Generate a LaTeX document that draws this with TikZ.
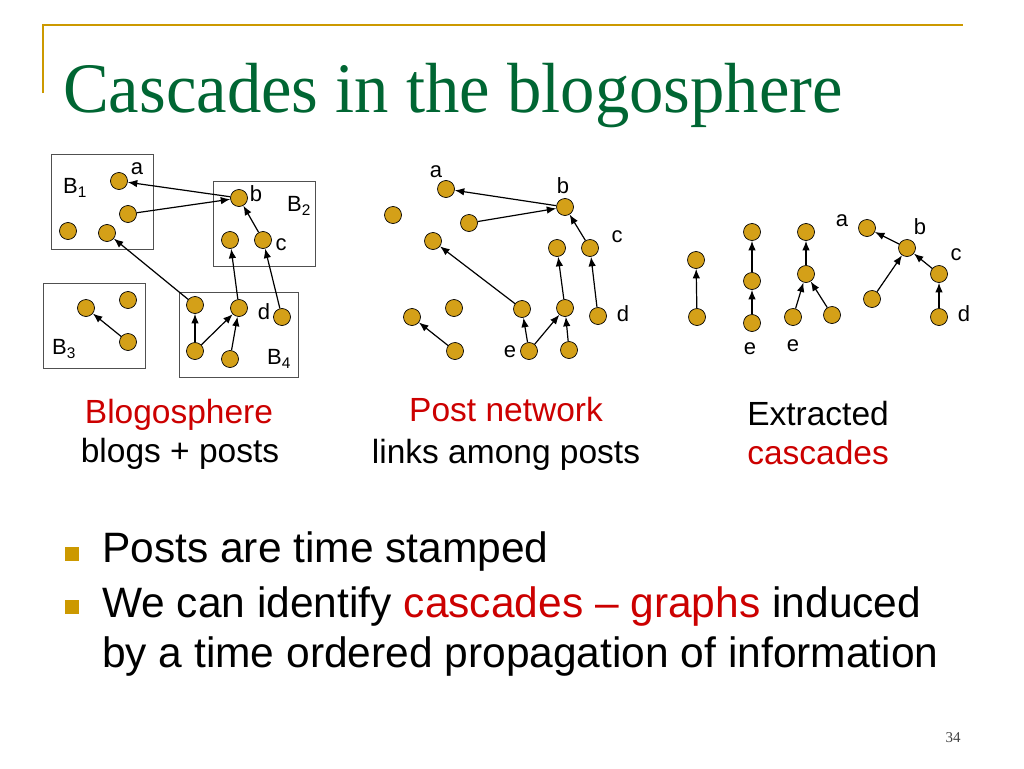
\documentclass[tikz,border=0pt]{standalone}
\usepackage{fontspec}
\setmainfont{Liberation Sans}
\newfontfamily\titlefont{Liberation Serif}
\usetikzlibrary{arrows.meta}
\definecolor{gold}{RGB}{204,153,0}
\definecolor{nodegold}{RGB}{212,160,24}
\definecolor{titlegreen}{RGB}{0,102,51}
\definecolor{capred}{RGB}{204,0,0}
\definecolor{boxgray}{RGB}{80,80,80}
\begin{document}
\begin{tikzpicture}[x=1pt,y=-1pt,
 post/.style={circle,draw=black,line width=0.7pt,fill=nodegold,minimum size=17pt,inner sep=0pt},
 arr/.style={-{Latex[length=9.5pt,width=7.5pt]},line width=1.2pt},
 blogbox/.style={draw=boxgray,line width=1pt,inner sep=0pt},
 lbl/.style={inner sep=0pt,font=\fontsize{22}{26}\selectfont},
 captxt/.style={anchor=base,inner sep=0pt,font=\fontsize{33.5}{38}\selectfont},
 bul/.style={anchor=base west,inner sep=0pt,font=\fontsize{42.5}{48}\selectfont},
 sq/.style={fill=gold,minimum size=14pt,inner sep=0pt}]
\useasboundingbox[fill=white] (0,0) rectangle (1024,768);
% decoration
\draw[gold,line width=2pt] (43,93) -- (43,25) -- (963,25);
\node[anchor=base west,inner sep=0pt,text=titlegreen,font=\titlefont\fontsize{71}{80}\selectfont,xscale=0.967] (title) at (63,112) {Cascades in the blogosphere};
% blog boxes
\node[blogbox,minimum width=102pt,minimum height=95pt] (B1) at (102,201.5) {};
\node[blogbox,minimum width=102pt,minimum height=85pt] (B2) at (264,223.5) {};
\node[blogbox,minimum width=102pt,minimum height=85pt] (B3) at (94,325.5) {};
\node[blogbox,minimum width=119pt,minimum height=85pt] (B4) at (238.5,334.5) {};
\node[lbl] (tB1) at (75,188) {B\textsubscript{1}};
\node[lbl] (tB2) at (299,206) {B\textsubscript{2}};
\node[lbl] (tB3) at (64,349) {B\textsubscript{3}};
\node[lbl] (tB4) at (279,359) {B\textsubscript{4}};
% left posts
\node[post] (la) at (119,181) {};
\node[post] (l2) at (128,214) {};
\node[post] (l3) at (68,231) {};
\node[post] (l4) at (107,233) {};
\node[post] (lb) at (239,198) {};
\node[post] (l6) at (230,240) {};
\node[post] (lc) at (263,240) {};
\node[post] (l8) at (86,308) {};
\node[post] (l9) at (128,300) {};
\node[post] (l10) at (128,342) {};
\node[post] (l11) at (195,305) {};
\node[post] (l12) at (239,308) {};
\node[post] (ld) at (282,317) {};
\node[post] (l14) at (195,351) {};
\node[post] (l15) at (230,359) {};
\node[lbl] (tla) at (137,169) {a};
\node[lbl] (tlb) at (256,194) {b};
\node[lbl] (tlc) at (281,245) {c};
\node[lbl] (tld) at (264,312) {d};
\draw[arr] (lb) -- (la);
\draw[arr] (l2) -- (lb);
\draw[arr] (lc) -- (lb);
\draw[arr] (l11) -- (l4);
\draw[arr] (l12) -- (l6);
\draw[arr] (ld) -- (lc);
\draw[arr] (l14) -- (l11);
\draw[arr] (l14) -- (l12);
\draw[arr] (l15) -- (l12);
\draw[arr] (l10) -- (l8);
% middle posts
\node[post] (ma) at (446,189) {};
\node[post] (mb) at (565,207) {};
\node[post] (m3) at (393,215) {};
\node[post] (m4) at (469,223) {};
\node[post] (m5) at (433,241) {};
\node[post] (m6) at (557,248) {};
\node[post] (mc) at (590,248) {};
\node[post] (m8) at (412,317) {};
\node[post] (m9) at (454,308) {};
\node[post] (m10) at (522,309) {};
\node[post] (m11) at (565,308) {};
\node[post] (md) at (598,316) {};
\node[post] (m13) at (455,351) {};
\node[post] (me) at (529,351) {};
\node[post] (m15) at (569,350) {};
\node[lbl] (tma) at (436,172) {a};
\node[lbl] (tmb) at (563,186) {b};
\node[lbl] (tmc) at (617,237) {c};
\node[lbl] (tmd) at (623,314) {d};
\node[lbl] (tme) at (510,352) {e};
\draw[arr] (mb) -- (ma);
\draw[arr] (m4) -- (mb);
\draw[arr] (mc) -- (mb);
\draw[arr] (m10) -- (m5);
\draw[arr] (m11) -- (m6);
\draw[arr] (md) -- (mc);
\draw[arr] (me) -- (m10);
\draw[arr] (me) -- (m11);
\draw[arr] (m15) -- (m11);
\draw[arr] (m13) -- (m8);
% right cascades
\node[post] (r1) at (696,260) {};
\node[post] (r2) at (697,317) {};
\node[post] (r3) at (752,232) {};
\node[post] (r4) at (752,281) {};
\node[post] (r5) at (752,323) {};
\node[post] (r6) at (806,232) {};
\node[post] (r7) at (806,274) {};
\node[post] (r8) at (793,317) {};
\node[post] (r9) at (832,315) {};
\node[post] (ra) at (867,228) {};
\node[post] (rb) at (907,248) {};
\node[post] (r12) at (872,299) {};
\node[post] (rc) at (939,274) {};
\node[post] (rd) at (939,317) {};
\node[lbl] (tra) at (842,221) {a};
\node[lbl] (trb) at (920,227) {b};
\node[lbl] (trc) at (956,255) {c};
\node[lbl] (trd) at (964,314) {d};
\node[lbl] (tre1) at (750,349) {e};
\node[lbl] (tre2) at (793,346) {e};
\draw[arr] (r2) -- (r1);
\draw[arr] (r4) -- (r3);
\draw[arr] (r5) -- (r4);
\draw[arr] (r7) -- (r6);
\draw[arr] (r8) -- (r7);
\draw[arr] (r9) -- (r7);
\draw[arr] (rb) -- (ra);
\draw[arr] (r12) -- (rb);
\draw[arr] (rc) -- (rb);
\draw[arr] (rd) -- (rc);
% captions
\node[captxt,text=capred] (c1a) at (179,423) {Blogosphere};
\node[captxt] (c1b) at (180,462) {blogs + posts};
\node[captxt,text=capred] (c2a) at (506,421) {Post network};
\node[captxt] (c2b) at (506,463) {links among posts};
\node[captxt] (c3a) at (818,425) {Extracted};
\node[captxt,text=capred] (c3b) at (818,464) {cascades};
% bullets
\node[sq] (s1) at (72,553.5) {};
\node[sq] (s2) at (72,606.5) {};
\node[bul] (t1) at (102,562) {Posts are time stamped};
\node[bul] (t2) at (102,617) {We can identify \textcolor{capred}{cascades – graphs} induced};
\node[bul] (t3) at (102,667) {by a time ordered propagation of information};
\node[inner sep=0pt,text=black!75,font=\titlefont\fontsize{15}{18}\selectfont] (pg) at (953,738) {34};
\end{tikzpicture}
\end{document}
